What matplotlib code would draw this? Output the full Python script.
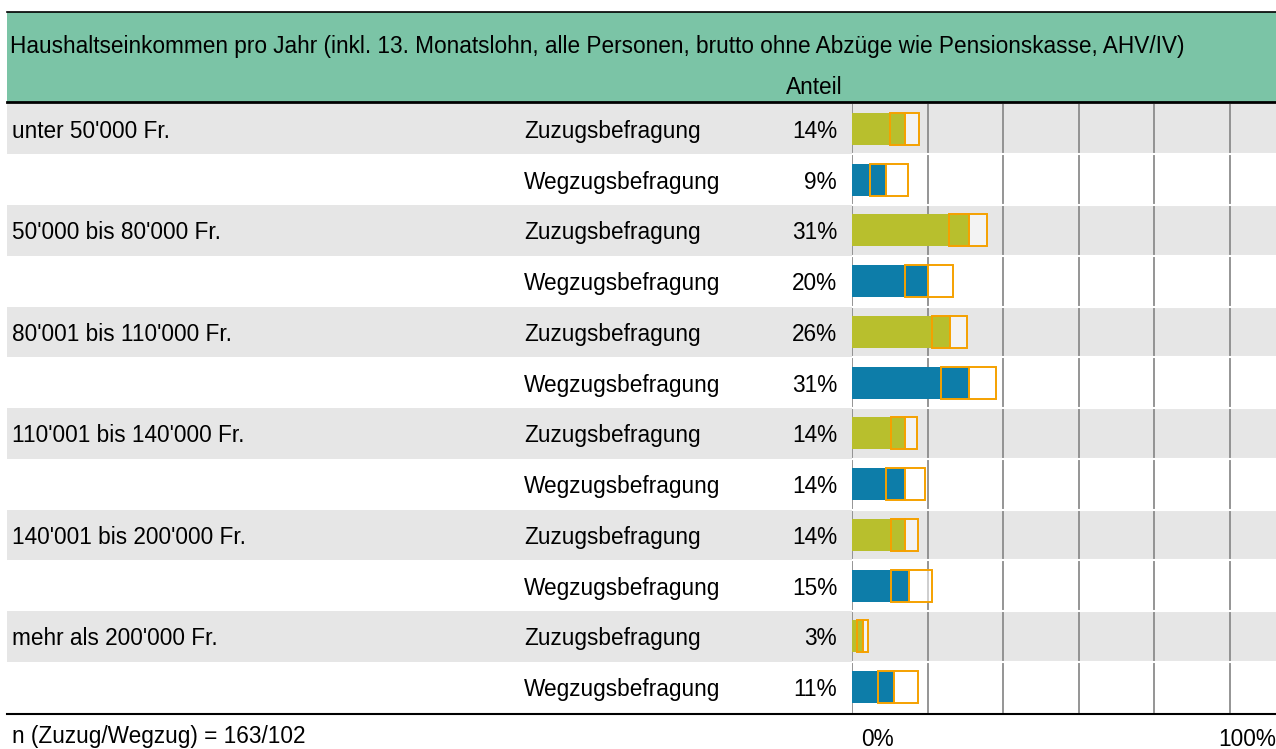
import matplotlib
matplotlib.use("Agg")
import matplotlib.pyplot as plt
from matplotlib.patches import Rectangle

# --- DATA ---
categories = ["unter 50'000 Fr.", "50'000 bis 80'000 Fr.", "80'001 bis 110'000 Fr.",
              "110'001 bis 140'000 Fr.", "140'001 bis 200'000 Fr.", "mehr als 200'000 Fr."]
surveys = ["Zuzugsbefragung", "Wegzugsbefragung"]
zuzug = [14, 31, 26, 14, 14, 3]
wegzug = [9, 20, 31, 14, 15, 11]
# confidence intervals (lower, upper) in %
zuzug_lo = [10.1, 25.8, 21.2, 10.3, 10.2, 1.2]
zuzug_hi = [17.7, 35.7, 30.4, 17.3, 17.5, 4.2]
wegzug_lo = [4.8, 14.0, 23.5, 8.9, 10.3, 6.8]
wegzug_hi = [14.8, 26.8, 38.1, 19.4, 21.3, 17.6]
grid_ticks = [0, 20, 40, 60, 80, 100]

title = ("Haushaltseinkommen pro Jahr (inkl. 13. Monatslohn, alle Personen, "
         "brutto ohne Abzüge wie Pensionskasse, AHV/IV)")
footnote = "n (Zuzug/Wegzug) = 163/102"

plt.rcParams["font.family"] = ["Liberation Sans", "DejaVu Sans"]
FS = 16.3

GREEN = "#7BC4A6"
GREY = "#E6E6E6"
OLIVE = "#B8BF2D"
BLUE = "#0D7DA9"
ORANGE = "#F5A100"
GRID = "#8C8C8C"

# interleave rows: Zuzug, Wegzug per category
values, lows, highs, colors, row_lab, cat_lab = [], [], [], [], [], []
for i, cat in enumerate(categories):
    values += [zuzug[i], wegzug[i]]
    lows += [zuzug_lo[i], wegzug_lo[i]]
    highs += [zuzug_hi[i], wegzug_hi[i]]
    colors += [OLIVE, BLUE]
    row_lab += surveys
    cat_lab += [cat, ""]
n_rows = len(values)

W, H = 1276, 749
top, bottom = 103.5, 712.5
x0, x100 = 852, 1229.5
px_per_pct = (x100 - x0) / 100

fig = plt.figure(figsize=(W / 100, H / 100), dpi=100)

# background axes in pixel coordinates: header, row bands, texts
bg = fig.add_axes([0, 0, 1, 1])
bg.set_xlim(0, W)
bg.set_ylim(H, 0)
bg.axis("off")

bg.add_patch(Rectangle((7, 12), W - 7, 90, facecolor=GREEN, edgecolor="none"))
bg.plot([7, W], [12.3, 12.3], color="black", lw=1.2)
bg.plot([7, W], [102, 102], color="black", lw=2.0)
bg.text(10, 47, title, fontsize=FS, va="center", ha="left")
bg.text(843, 88, "Anteil", fontsize=FS, va="center", ha="right")

row_h = (bottom - top) / n_rows
for r in range(n_rows):
    y = top + r * row_h
    if r % 2 == 0:
        bg.add_patch(Rectangle((7, y), W - 7, row_h, facecolor=GREY, edgecolor="none"))
    yc = y + row_h / 2 + 2.5
    if cat_lab[r]:
        bg.text(12, yc, cat_lab[r], fontsize=FS, va="center", ha="left")
    bg.text(524, yc, row_lab[r], fontsize=FS, va="center", ha="left")
    bg.text(837, yc, f"{values[r]}%", fontsize=FS, va="center", ha="right")

bg.plot([7, W], [713.5, 713.5], color="black", lw=1.5)
bg.text(12, 736, footnote, fontsize=FS, va="center", ha="left")
bg.text(877, 739, "0%", fontsize=FS, va="center", ha="center")
bg.text(W, 739, "100%", fontsize=FS, va="center", ha="right")

# bar axes
ax = fig.add_axes([x0 / W, (H - bottom) / H, (W - x0) / W, (bottom - top) / H])
ax.set_xlim(0, (W - x0) / px_per_pct)
ax.set_ylim(n_rows, 0)
ax.axis("off")
ax.patch.set_alpha(0)

ax.vlines(grid_ticks, 0, n_rows, color=GRID, lw=1.3, zorder=1)
ax.hlines(range(1, n_rows), 0, 200, color="white", lw=1.5, zorder=2)

ypos = [r + 0.5 for r in range(n_rows)]
ax.barh(ypos, values, height=0.63, color=colors, zorder=3)
# confidence interval: left part up to the value, right part beyond it
ax.barh(ypos, [v - lo for v, lo in zip(values, lows)], left=lows, height=0.63,
        facecolor="none", edgecolor=ORANGE, lw=1.4, zorder=4)
ax.barh(ypos, [hi - v for v, hi in zip(values, highs)], left=values, height=0.63,
        facecolor=(1, 1, 1, 0.55), edgecolor=ORANGE, lw=1.4, zorder=4)

fig.savefig("out.png", dpi=100)
